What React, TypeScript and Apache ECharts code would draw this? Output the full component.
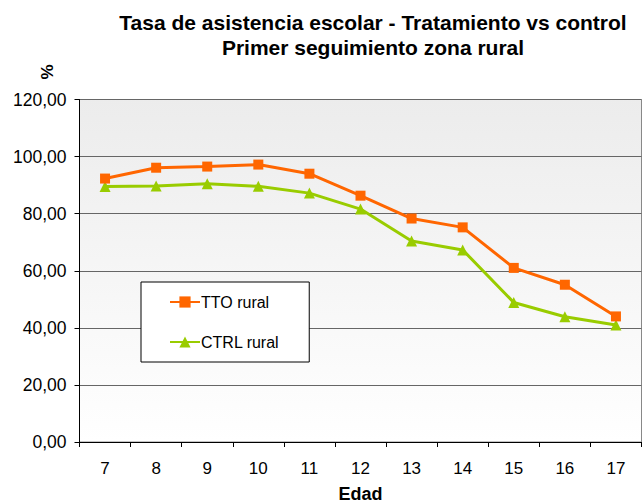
import React, { useEffect, useRef } from "react";
import * as echarts from "echarts";

const titleLines = ["Tasa de asistencia escolar - Tratamiento vs control", "Primer seguimiento zona rural"];
const ages = ["7", "8", "9", "10", "11", "12", "13", "14", "15", "16", "17"];
const ttoRural = [92.3, 96.1, 96.5, 97.2, 94.0, 86.3, 78.3, 75.2, 61.0, 55.1, 44.0];
const ctrlRural = [89.5, 89.7, 90.5, 89.6, 87.2, 81.6, 70.4, 67.3, 48.9, 43.9, 41.0];
const seriesNames = ["TTO rural", "CTRL rural"];
const xAxisTitle = "Edad";
const yAxisTitle = "%";

export default function App() {
  const ref = useRef<HTMLDivElement>(null);
  useEffect(() => {
    if (!ref.current) return;
    const chart = echarts.init(ref.current, null, { renderer: "svg" });
    const font = "Liberation Sans, Arial, sans-serif";
    chart.setOption({
      animation: false,
      backgroundColor: "#ffffff",
      textStyle: { fontFamily: font },
      title: {
        text: titleLines.join("\n"),
        left: 368,
        textAlign: "center",
        top: 5,
        textStyle: { fontSize: 21, fontWeight: "bold", color: "#000", lineHeight: 25, fontFamily: font },
      },
      graphic: [
        {
          type: "text",
          x: 47,
          y: 72,
          rotation: Math.PI / 2,
          style: {
            text: yAxisTitle,
            fontSize: 17,
            fontWeight: "bold",
            fontFamily: font,
            fill: "#000",
            align: "center",
            verticalAlign: "middle",
          },
        },
      ],
      legend: {
        orient: "vertical",
        left: 141,
        top: 282,
        backgroundColor: "#ffffff",
        borderColor: "#000",
        borderWidth: 1,
        padding: [12, 30, 12, 28],
        itemGap: 24,
        itemWidth: 30,
        itemHeight: 14,
        textStyle: { fontSize: 16, color: "#000", fontFamily: font, padding: [0, 0, 0, -4] },
        data: seriesNames,
      },
      grid: {
        left: 79.5,
        right: 2.5,
        top: 99.5,
        bottom: 62,
        outerBoundsMode: "none",
        containLabel: false,
        show: true,
        borderColor: "#888",
        borderWidth: 1,
        backgroundColor: new echarts.graphic.LinearGradient(0, 0, 0, 1, [
          { offset: 0, color: "#ececec" },
          { offset: 1, color: "#ffffff" },
        ]),
      },
      xAxis: {
        type: "category",
        data: ages,
        boundaryGap: true,
        name: xAxisTitle,
        nameLocation: "middle",
        nameGap: 43,
        nameTextStyle: { fontSize: 18, fontWeight: "bold", color: "#000", fontFamily: font },
        axisLine: { lineStyle: { color: "#000", width: 1 } },
        axisTick: { show: true, length: 5, alignWithLabel: false, lineStyle: { color: "#000" } },
        axisLabel: { fontSize: 17, color: "#000", margin: 18, fontFamily: font },
        splitLine: { show: false },
      },
      yAxis: {
        type: "value",
        min: 0,
        max: 120,
        interval: 20,
        axisLine: { show: true, lineStyle: { color: "#000", width: 1 } },
        axisTick: { show: true, length: 5, lineStyle: { color: "#000" } },
        axisLabel: {
          fontSize: 17.5,
          color: "#000",
          margin: 13,
          fontFamily: font,
          formatter: (v: number) => v.toFixed(2).replace(".", ","),
        },
        splitLine: { show: true, lineStyle: { color: "#666", width: 1 } },
      },
      series: [
        {
          name: seriesNames[0],
          type: "line",
          data: ttoRural,
          symbol: "rect",
          symbolSize: 10,
          lineStyle: { color: "#ff6600", width: 3 },
          itemStyle: { color: "#ff6600" },
          z: 3,
        },
        {
          name: seriesNames[1],
          type: "line",
          data: ctrlRural,
          symbol: "triangle",
          symbolSize: 11,
          lineStyle: { color: "#99cc00", width: 3 },
          itemStyle: { color: "#99cc00" },
          z: 2,
        },
      ],
    });
    return () => chart.dispose();
  }, []);
  return <div ref={ref} style={{ width: 644, height: 504, position: "absolute", left: 0, top: 0 }} />;
}
